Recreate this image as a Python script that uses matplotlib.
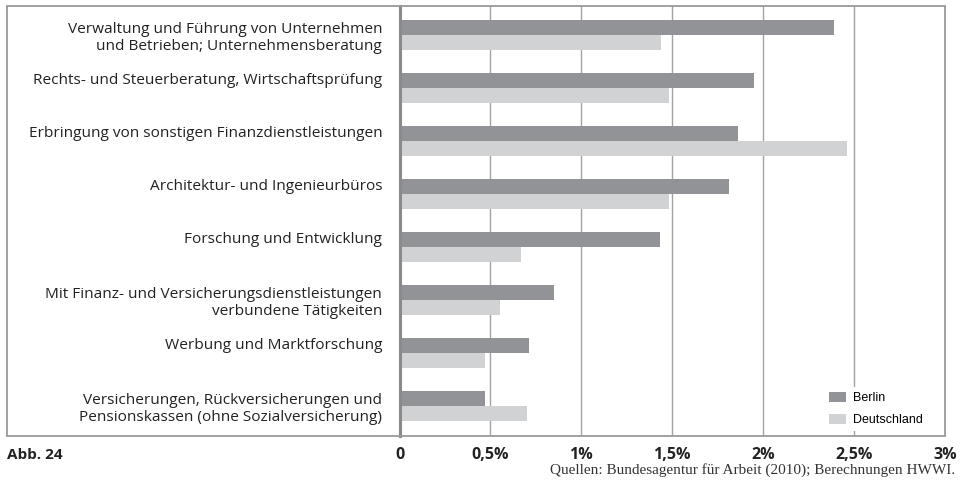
import matplotlib
matplotlib.use("Agg")
import matplotlib.pyplot as plt
from matplotlib.patches import Rectangle, Patch
import numpy as np

categories = [
    "Verwaltung und Führung von Unternehmen\nund Betrieben; Unternehmensberatung",
    "Rechts- und Steuerberatung, Wirtschaftsprüfung",
    "Erbringung von sonstigen Finanzdienstleistungen",
    "Architektur- und Ingenieurbüros",
    "Forschung und Entwicklung",
    "Mit Finanz- und Versicherungsdienstleistungen\nverbundene Tätigkeiten",
    "Werbung und Marktforschung",
    "Versicherungen, Rückversicherungen und\nPensionskassen (ohne Sozialversicherung)",
]
berlin = [2.39, 1.95, 1.86, 1.81, 1.43, 0.85, 0.71, 0.47]
deutschland = [1.44, 1.48, 2.46, 1.48, 0.67, 0.55, 0.47, 0.70]
xticks = [0, 0.5, 1, 1.5, 2, 2.5, 3]
xticklabels = ["0", "0,5%", "1%", "1,5%", "2%", "2,5%", "3%"]
series_names = ["Berlin", "Deutschland"]
colors = ["#929396", "#d1d2d4"]

W, H = 960, 484
fig = plt.figure(figsize=(W / 100, H / 100), dpi=100)
fig.patch.set_facecolor("white")

ax_left, ax_right = 399.5, 945
ax_top, ax_bottom = 6, 436
ax = fig.add_axes([ax_left / W, 1 - ax_bottom / H, (ax_right - ax_left) / W, (ax_bottom - ax_top) / H])

y = np.arange(len(categories))
h = 0.283
ax.barh(y - h / 2, berlin, height=h, color=colors[0], zorder=2)
ax.barh(y + h / 2, deutschland, height=h, color=colors[1], zorder=2)

ax.set_xlim(0, 3)
ax.set_ylim(7.566, -0.547)
for xv in xticks[1:-1]:
    ax.axvline(xv, color="#a3a3a3", lw=1.0, zorder=1)

for s in ["top", "right", "bottom"]:
    ax.spines[s].set_visible(False)
ax.spines["left"].set_color("#8a8a8a")
ax.spines["left"].set_linewidth(2.2)
ax.spines["left"].set_zorder(3)
ax.set_yticks([])
ax.set_xticks(xticks)
ax.set_xticklabels(xticklabels, fontfamily="Open Sans", fontweight="bold", fontsize=11.5, color="#222222")
ax.tick_params(axis="x", length=0, pad=8)

# category labels
for i, lab in enumerate(categories):
    off = 0.06 if "\n" in lab else -0.14
    ax.text(-0.095, i + off, lab, ha="right", va="center", fontfamily="Open Sans",
            fontsize=11.1, color="#222222", linespacing=1.13, clip_on=False)

# outer frame
fig.add_artist(Rectangle((7 / W, 1 - 436 / H), (945 - 7) / W, (436 - 6) / H,
                         transform=fig.transFigure, fill=False, edgecolor="#9a9a9a", lw=1.3))

handles = [Patch(facecolor=c, edgecolor="none") for c in colors]
leg = ax.legend(handles, series_names, loc="upper left",
                bbox_to_anchor=((818) / W, 1 - 381 / H), bbox_transform=fig.transFigure,
                frameon=True, facecolor="white", edgecolor="none", framealpha=1,
                fancybox=False, borderpad=0.35, handlelength=1.4, handleheight=0.95,
                handletextpad=0.55, labelspacing=0.75,
                prop={"family": "Liberation Sans", "size": 9})
leg.set_zorder(4)

fig.text(7 / W, 1 - 455 / H, "Abb. 24", ha="left", va="center", fontfamily="Open Sans",
         fontweight="bold", fontsize=11, color="#222222")
fig.text(955 / W, 1 - 470 / H, "Quellen: Bundesagentur für Arbeit (2010); Berechnungen HWWI.",
         ha="right", va="center", fontfamily="Liberation Serif", fontsize=11, color="#333333")

fig.savefig("out.png", dpi=100)
